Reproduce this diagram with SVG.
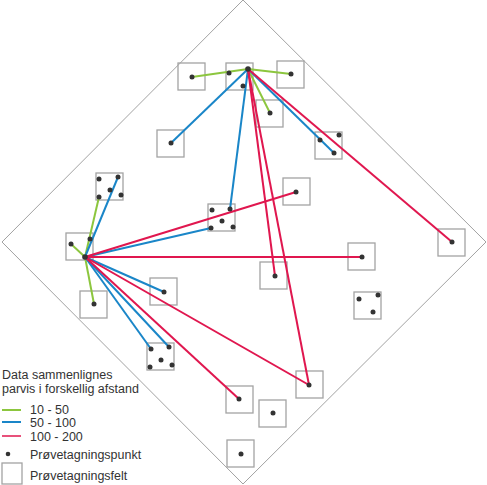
<svg xmlns="http://www.w3.org/2000/svg" width="487" height="485" viewBox="0 0 487 485">
<style>
.bg{fill:#fff}
.frame{fill:none;stroke:#8a8a8a;stroke-width:0.8}
.box{fill:none;stroke:#a3a3a3;stroke-width:1.3}
.pt{fill:#333}
.g{stroke:#8cc63e;stroke-width:2;fill:none}
.b{stroke:#1a86c8;stroke-width:2;fill:none}
.r{stroke:#e0174f;stroke-width:2;fill:none}
text{font-family:"Liberation Sans",Arial,sans-serif;font-size:12.5px;fill:#333}
</style>
<rect class="bg" x="0" y="0" width="487" height="485"/>
<polygon class="frame" points="243,0 486,242 243,484 2,242"/>
<g id="fields">
<rect id="fA" class="box" x="178" y="63" width="27" height="27"/>
<rect id="fB" class="box" x="226" y="63" width="27" height="27"/>
<rect id="fC" class="box" x="277" y="61" width="27" height="27"/>
<rect id="fD" class="box" x="256" y="100" width="27" height="27"/>
<rect id="fE" class="box" x="157" y="130" width="27" height="27"/>
<rect id="fF" class="box" x="315" y="132" width="27" height="27"/>
<rect id="fG" class="box" x="96" y="173" width="27" height="27"/>
<rect id="fH" class="box" x="66" y="233" width="27" height="27"/>
<rect id="fI" class="box" x="80" y="291" width="27" height="27"/>
<rect id="fJ" class="box" x="150" y="278" width="27" height="27"/>
<rect id="fK" class="box" x="208" y="204" width="27" height="27"/>
<rect id="fL" class="box" x="283" y="178" width="27" height="27"/>
<rect id="fM" class="box" x="348" y="243" width="27" height="27"/>
<rect id="fN" class="box" x="260" y="262" width="27" height="27"/>
<rect id="fO" class="box" x="354" y="292" width="27" height="27"/>
<rect id="fP" class="box" x="438" y="229" width="27" height="27"/>
<rect id="fQ" class="box" x="147" y="343" width="27" height="27"/>
<rect id="fR" class="box" x="226" y="386" width="27" height="27"/>
<rect id="fS" class="box" x="296" y="371" width="27" height="27"/>
<rect id="fT" class="box" x="259" y="400" width="27" height="27"/>
<rect id="fU" class="box" x="227" y="440" width="27" height="27"/>
</g>
<g id="connectors">
<line class="g" x1="248" y1="69" x2="192" y2="77"/>
<line class="g" x1="248" y1="69" x2="291" y2="74"/>
<line class="g" x1="248" y1="69" x2="270" y2="113"/>
<line class="b" x1="248" y1="69" x2="171" y2="143"/>
<line class="b" x1="248" y1="69" x2="334" y2="153"/>
<line class="b" x1="248" y1="69" x2="230" y2="209"/>
<line class="r" x1="248" y1="69" x2="275" y2="276"/>
<line class="r" x1="248" y1="69" x2="309" y2="385"/>
<line class="r" x1="248" y1="69" x2="452" y2="242"/>
<line class="g" x1="85" y1="257" x2="99" y2="197"/>
<line class="g" x1="85" y1="257" x2="71" y2="244"/>
<line class="g" x1="85" y1="257" x2="94" y2="304"/>
<line class="b" x1="85" y1="257" x2="118" y2="177"/>
<line class="b" x1="85" y1="257" x2="211" y2="228"/>
<line class="b" x1="85" y1="257" x2="164" y2="292"/>
<line class="b" x1="85" y1="257" x2="151" y2="349"/>
<line class="b" x1="85" y1="257" x2="169" y2="347"/>
<line class="r" x1="85" y1="257" x2="296" y2="192"/>
<line class="r" x1="85" y1="257" x2="362" y2="257"/>
<line class="r" x1="85" y1="257" x2="239" y2="399"/>
<line class="r" x1="85" y1="257" x2="309" y2="385"/>
</g>
<g id="points">
<circle class="pt" cx="192" cy="77" r="2.5"/>
<circle class="pt" cx="229" cy="73" r="2.5"/>
<circle class="pt" cx="248" cy="69" r="2.8"/>
<circle class="pt" cx="243" cy="86" r="2.5"/>
<circle class="pt" cx="291" cy="74" r="2.5"/>
<circle class="pt" cx="270" cy="113" r="2.5"/>
<circle class="pt" cx="171" cy="143" r="2.5"/>
<circle class="pt" cx="320" cy="140" r="2.5"/>
<circle class="pt" cx="339" cy="135" r="2.5"/>
<circle class="pt" cx="334" cy="153" r="2.5"/>
<circle class="pt" cx="99" cy="179" r="2.5"/>
<circle class="pt" cx="118" cy="177" r="2.5"/>
<circle class="pt" cx="110" cy="190" r="2.5"/>
<circle class="pt" cx="99" cy="197" r="2.5"/>
<circle class="pt" cx="121" cy="195" r="2.5"/>
<circle class="pt" cx="71" cy="244" r="2.5"/>
<circle class="pt" cx="90" cy="239" r="2.5"/>
<circle class="pt" cx="85" cy="257" r="2.8"/>
<circle class="pt" cx="94" cy="304" r="2.5"/>
<circle class="pt" cx="164" cy="292" r="2.5"/>
<circle class="pt" cx="212" cy="210" r="2.5"/>
<circle class="pt" cx="230" cy="209" r="2.5"/>
<circle class="pt" cx="222" cy="221" r="2.5"/>
<circle class="pt" cx="211" cy="228" r="2.5"/>
<circle class="pt" cx="233" cy="227" r="2.5"/>
<circle class="pt" cx="296" cy="192" r="2.5"/>
<circle class="pt" cx="362" cy="257" r="2.5"/>
<circle class="pt" cx="275" cy="276" r="2.5"/>
<circle class="pt" cx="359" cy="299" r="2.5"/>
<circle class="pt" cx="378" cy="295" r="2.5"/>
<circle class="pt" cx="373" cy="312" r="2.5"/>
<circle class="pt" cx="452" cy="242" r="2.5"/>
<circle class="pt" cx="151" cy="349" r="2.5"/>
<circle class="pt" cx="169" cy="347" r="2.5"/>
<circle class="pt" cx="161" cy="360" r="2.5"/>
<circle class="pt" cx="150" cy="367" r="2.5"/>
<circle class="pt" cx="172" cy="365" r="2.5"/>
<circle class="pt" cx="239" cy="399" r="2.5"/>
<circle class="pt" cx="309" cy="385" r="2.5"/>
<circle class="pt" cx="273" cy="413" r="2.5"/>
<circle class="pt" cx="241" cy="454" r="2.5"/>
</g>
<g id="legend">
<text x="2" y="379">Data sammenlignes</text>
<text x="2" y="393">parvis i forskellig afstand</text>
<line class="g" x1="2" y1="410" x2="21" y2="410"/>
<text x="30" y="414">10 - 50</text>
<line class="b" x1="2" y1="422" x2="21" y2="422"/>
<text x="30" y="427">50 - 100</text>
<line class="r" x1="2" y1="436" x2="21" y2="436" style="stroke-width:1.5"/>
<text x="30" y="441">100 - 200</text>
<circle class="pt" cx="8" cy="454" r="2.3"/>
<text x="30" y="459">Prøvetagningspunkt</text>
<rect class="box" x="2" y="463" width="20" height="21"/>
<text x="30" y="480">Prøvetagningsfelt</text>
</g>
</svg>
